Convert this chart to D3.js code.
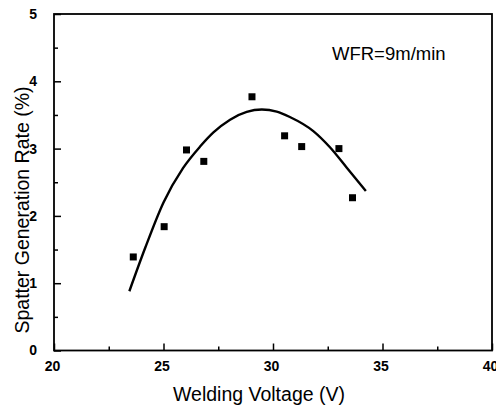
<!DOCTYPE html>
<html>
<head>
<meta charset="utf-8">
<script src="https://cdn.jsdelivr.net/npm/d3@7/dist/d3.min.js"></script>
<style>
  html, body { margin: 0; padding: 0; background: #fff; }
  svg { display: block; }
  text { font-family: "Liberation Sans", Arial, sans-serif; fill: #000; }
</style>
</head>
<body>
<svg id="chart" width="496" height="411"></svg>
<script>
// Measured spatter generation rate vs. welding voltage
const voltage = [23.62, 25.03, 26.05, 26.84, 29.04, 30.53, 31.31, 33.01, 33.63];
const spatterRate = [1.39, 1.84, 2.98, 2.81, 3.77, 3.19, 3.03, 3.00, 2.27];

// Fitted trend curve (sampled)
const fitVoltage = [23.44, 24.17, 25.00, 25.89, 26.67, 27.28, 28.04, 28.80, 29.49, 30.17, 30.77, 31.84, 32.60, 33.36, 34.24];
const fitRate = [0.88, 1.53, 2.20, 2.71, 3.03, 3.24, 3.43, 3.545, 3.58, 3.55, 3.47, 3.26, 3.02, 2.72, 2.37];

const xTicks = [20, 25, 30, 35, 40];
const yTicks = [0, 1, 2, 3, 4, 5];
const annotation = "WFR=9m/min";

const svg = d3.select("#chart");
const plotLeft = 54, plotRight = 492, plotTop = 14, plotBottom = 350.5;

const x = d3.scaleLinear().domain([20, 40]).range([plotLeft, plotRight]);
const y = d3.scaleLinear().domain([0, 5]).range([plotBottom, plotTop]);

// frame
svg.append("rect")
  .attr("x", plotLeft).attr("y", plotTop)
  .attr("width", plotRight - plotLeft).attr("height", plotBottom - plotTop)
  .attr("fill", "none").attr("stroke", "#000").attr("stroke-width", 1.8);

// x axis: inward ticks, major + minor
const xMinor = d3.range(22.5, 40, 5);
const xAxis = svg.append("g").attr("transform", `translate(0,${plotBottom})`);
xAxis.call(d3.axisBottom(x).tickValues(xTicks).tickSize(-7).tickPadding(11).tickFormat(d3.format("d")));
xAxis.append("g").call(d3.axisBottom(x).tickValues(xMinor).tickSize(-4).tickFormat(""));
xAxis.selectAll(".domain").remove();
xAxis.selectAll("line").attr("stroke", "#000").attr("stroke-width", 1.5);
xAxis.selectAll("text").attr("font-size", 14).attr("font-weight", "bold").attr("fill", "#000")
  .attr("dx", -2);

// y axis
const yMinor = d3.range(0.5, 5, 1);
const yAxis = svg.append("g").attr("transform", `translate(${plotLeft},0)`);
yAxis.call(d3.axisLeft(y).tickValues(yTicks).tickSize(-7).tickPadding(17).tickFormat(d3.format("d")));
yAxis.append("g").call(d3.axisLeft(y).tickValues(yMinor).tickSize(-4).tickFormat(""));
yAxis.selectAll(".domain").remove();
yAxis.selectAll("line").attr("stroke", "#000").attr("stroke-width", 1.5);
yAxis.selectAll("text").attr("font-size", 14).attr("font-weight", "bold").attr("fill", "#000");

// axis titles
svg.append("text")
  .attr("x", 259).attr("y", 401)
  .attr("text-anchor", "middle").attr("font-size", 19.5)
  .text("Welding Voltage (V)");

svg.append("text")
  .attr("transform", "translate(29,210) rotate(-90)")
  .attr("text-anchor", "middle").attr("font-size", 19.5)
  .text("Spatter Generation Rate (%)");

// annotation
svg.append("text")
  .attr("x", 332).attr("y", 60)
  .attr("font-size", 18.5)
  .text(annotation);

// fitted curve
const fitPts = fitVoltage.map((v, i) => [v, fitRate[i]]);
svg.append("path")
  .datum(fitPts)
  .attr("fill", "none").attr("stroke", "#000").attr("stroke-width", 2.4)
  .attr("d", d3.line().x(d => x(d[0])).y(d => y(d[1])).curve(d3.curveMonotoneX));

// data markers
const sz = 7;
svg.append("g").selectAll("rect")
  .data(voltage.map((v, i) => [v, spatterRate[i]]))
  .join("rect")
  .attr("x", d => x(d[0]) - sz / 2).attr("y", d => y(d[1]) - sz / 2)
  .attr("width", sz).attr("height", sz).attr("fill", "#000");
</script>
</body>
</html>
